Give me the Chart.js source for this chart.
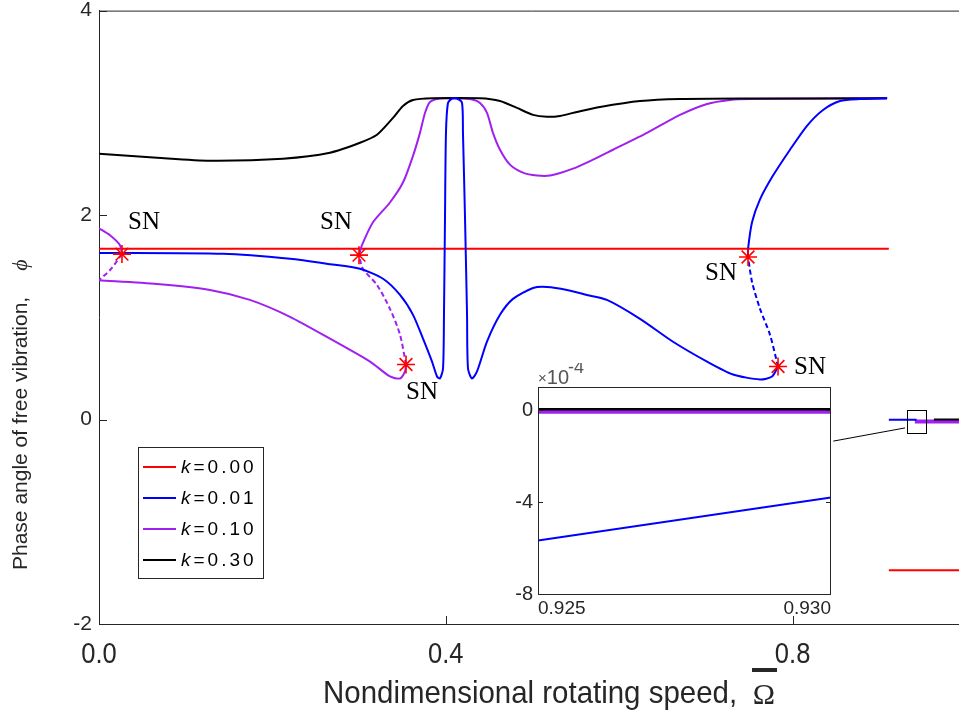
<!DOCTYPE html>
<html>
<head>
<meta charset="utf-8">
<script src="https://cdn.jsdelivr.net/npm/chart.js@4.4.0/dist/chart.umd.min.js"></script>
<style>
  html, body { margin: 0; padding: 0; background: #fff; overflow: hidden; }
  #wrap { position: relative; width: 959px; height: 711px; overflow: hidden; background: #fff; }
  #main { position: absolute; left: 0; top: 0; }
  #inset { position: absolute; left: 490px; top: 363px; }
</style>
</head>
<body>
<div id="wrap">
  <canvas id="main" width="980" height="711"></canvas>
  <canvas id="inset" width="345" height="255"></canvas>
</div>
<script>
// ---------- axes ----------
const xTicks = [0, 0.4, 0.8];
const yTicks = [-2, 0, 2, 4];
const insetXTicks = [0.925, 0.930];
const insetYTicks = [-8, -4, 0];

// ---------- k = 0.00 ----------
const redBranch = [[0, 1.67], [0.911, 1.67]];
const redAfterJump = [[0.911, -1.475], [1.0, -1.475]];

// ---------- k = 0.01 ----------
const blueLower = [[0, 1.630], [0.143, 1.621], [0.2203, 1.572], [0.2664, 1.520], [0.301, 1.475], [0.3276, 1.377],
  [0.3472, 1.219], [0.3622, 1.024], [0.3737, 0.791], [0.3841, 0.567], [0.3899, 0.421], [0.3933, 0.402],
  [0.3968, 0.499], [0.3979, 1.024], [0.3991, 1.997], [0.4002, 2.804], [0.4025, 3.096], [0.4072, 3.140],
  [0.4129, 3.140], [0.4187, 3.096], [0.4198, 2.804], [0.4221, 1.997], [0.4245, 1.024], [0.4256, 0.499],
  [0.4302, 0.402], [0.436, 0.470], [0.4475, 0.762], [0.4625, 1.024], [0.4775, 1.180], [0.5006, 1.287],
  [0.5167, 1.297], [0.5398, 1.268], [0.5629, 1.219], [0.5859, 1.170], [0.624, 0.985], [0.6621, 0.761],
  [0.7013, 0.567], [0.7313, 0.441], [0.7624, 0.392], [0.7763, 0.421], [0.7832, 0.519]];
const blueUnstable = [[0.7832, 0.519], [0.7739, 0.830], [0.7624, 1.083], [0.7532, 1.346], [0.7486, 1.59]];
const blueUpper = [[0.7486, 1.59], [0.7486, 1.667], [0.7532, 1.929], [0.7624, 2.153], [0.7774, 2.386],
  [0.797, 2.639], [0.8166, 2.873], [0.8351, 3.028], [0.8547, 3.116], [0.8777, 3.135], [0.909, 3.142]];
const blueAfterJump = [[0.911, -0.003], [0.943, -0.003]];

// ---------- k = 0.10 ----------
const purpleTopLeft = [[0, 1.871], [0.0127, 1.802], [0.0242, 1.705], [0.0265, 1.618]];
const purpleUnstableLeft = [[0.0265, 1.618], [0.013, 1.465], [0, 1.362]];
const purpleLower = [[0, 1.362], [0.0669, 1.326], [0.128, 1.268], [0.174, 1.170], [0.2203, 1.005],
  [0.2664, 0.791], [0.3126, 0.567], [0.3356, 0.421], [0.3472, 0.402], [0.3529, 0.470], [0.3541, 0.538]];
const purpleUnstableMid = [[0.3541, 0.538], [0.3472, 0.830], [0.3356, 1.083], [0.3206, 1.317],
  [0.3045, 1.472], [0.2999, 1.608]];
const purpleUpper = [[0.2999, 1.608], [0.3033, 1.705], [0.316, 1.929], [0.3356, 2.123], [0.3506, 2.318],
  [0.3622, 2.580], [0.3702, 2.804], [0.376, 2.999], [0.3818, 3.106], [0.3933, 3.140], [0.4129, 3.140],
  [0.4279, 3.135], [0.4394, 3.096], [0.4475, 2.999], [0.4544, 2.804], [0.4625, 2.639], [0.474, 2.493],
  [0.489, 2.415], [0.5052, 2.386], [0.5202, 2.386], [0.5467, 2.454], [0.5698, 2.542], [0.5929, 2.639],
  [0.6321, 2.804], [0.6701, 2.980], [0.7013, 3.087], [0.7278, 3.126], [0.7509, 3.135], [0.909, 3.142]];
const purpleAfterJump = [[0.941, -0.02], [1.0, -0.02]];

// ---------- k = 0.30 ----------
const blackBranch = [[0, 2.600], [0.0669, 2.561], [0.128, 2.532], [0.2122, 2.552], [0.2664, 2.610],
  [0.301, 2.707], [0.3206, 2.785], [0.3391, 2.950], [0.3506, 3.067], [0.3622, 3.125], [0.3852, 3.142],
  [0.4394, 3.142], [0.4625, 3.116], [0.4821, 3.048], [0.5006, 2.980], [0.5167, 2.961], [0.5317, 2.970],
  [0.5513, 3.009], [0.5779, 3.057], [0.624, 3.115], [0.6701, 3.135], [0.7474, 3.140], [0.909, 3.142]];
const blackAfterJump = [[0.963, 0], [1.0, 0]];

// ---------- saddle-node points ----------
const snX = [0.0265, 0.2999, 0.3541, 0.7486, 0.7832];
const snY = [1.618, 1.608, 0.538, 1.59, 0.519];
const snLabelX = [0.0519, 0.2734, 0.3725, 0.7174, 0.8201];
const snLabelY = [1.931, 1.931, 0.266, 1.433, 0.509];

// ---------- zoomed window (x in Omega, y in 1e-4) ----------
const insetX = [0.925, 0.930];
const insetBlack = [0.03, 0.03];
const insetPurple = [-0.05, -0.05];
const insetBlue = [-5.67, -3.8];
const zoomBoxX = [0.9323, 0.9547];
const zoomBoxY = [-0.13, 0.097];
const connector = [[0.847, -0.211], [0.9297, -0.082]];

// ---------- legend ----------
const legendLabels = ['0.00', '0.01', '0.10', '0.30'];

const RED = '#ff0000', BLUE = '#0000ff', PURPLE = '#a020f0', BLACK = '#000000';
const legendColors = [RED, BLUE, PURPLE, BLACK];
const AXIS = '#262626';
const SANS = '"Liberation Sans", Arial, sans-serif';
const SERIF = '"Liberation Serif", "Times New Roman", serif';

Chart.defaults.font.family = SANS;

function curve(pts, color, extra) {
  return Object.assign({
    data: pts.map(([x, y]) => ({ x, y })),
    showLine: true,
    borderColor: color,
    backgroundColor: color,
    borderWidth: 2,
    pointRadius: 0,
    tension: 0.25,
    fill: false
  }, extra || {});
}
const dashed = { borderDash: [5, 3] };

// first dataset is drawn on top
const mainDatasets = [
  {
    data: snX.map((x, i) => ({ x, y: snY[i] })),
    showLine: false,
    pointStyle: 'star',
    pointRadius: 9,
    borderWidth: 1.6,
    borderColor: RED,
    backgroundColor: RED
  },
  curve(blueLower, BLUE),
  curve(blueUnstable, BLUE, dashed),
  curve(blueUpper, BLUE),
  curve(blueAfterJump, BLUE, { tension: 0 }),
  curve(blackBranch, BLACK),
  curve(blackAfterJump, BLACK, { tension: 0 }),
  curve(purpleTopLeft, PURPLE),
  curve(purpleUnstableLeft, PURPLE, dashed),
  curve(purpleLower, PURPLE),
  curve(purpleUnstableMid, PURPLE, dashed),
  curve(purpleUpper, PURPLE),
  curve(purpleAfterJump, PURPLE, { tension: 0, borderWidth: 4 }),
  curve(redBranch, RED, { tension: 0 }),
  curve(redAfterJump, RED, { tension: 0 })
];

const mainDecor = {
  id: 'mainDecor',
  afterDraw(chart) {
    const { ctx, chartArea: a } = chart;
    const xs = chart.scales.x, ys = chart.scales.y;
    ctx.save();

    // top frame line
    ctx.strokeStyle = AXIS;
    ctx.lineWidth = 1;
    ctx.beginPath();
    ctx.moveTo(a.left, a.top + 0.5);
    ctx.lineTo(a.right, a.top + 0.5);
    ctx.stroke();

    // inward tick marks
    ctx.beginPath();
    xTicks.forEach(v => {
      const px = Math.round(xs.getPixelForValue(v)) + 0.5;
      ctx.moveTo(px, a.bottom);
      ctx.lineTo(px, a.bottom - 8);
    });
    yTicks.forEach(v => {
      const py = Math.round(ys.getPixelForValue(v)) + 0.5;
      ctx.moveTo(a.left, py);
      ctx.lineTo(a.left + 8, py);
    });
    ctx.stroke();

    // x tick labels (condensed)
    ctx.fillStyle = AXIS;
    ctx.font = '29px ' + SANS;
    ctx.textAlign = 'center';
    ctx.textBaseline = 'alphabetic';
    xTicks.forEach(v => {
      ctx.save();
      ctx.translate(xs.getPixelForValue(v), a.bottom + 39);
      ctx.scale(0.88, 1);
      ctx.fillText(v.toFixed(1), 0, 0);
      ctx.restore();
    });

    // x axis title
    ctx.save();
    ctx.font = '32px ' + SANS;
    ctx.textAlign = 'left';
    ctx.translate(323, 703);
    ctx.scale(0.92, 1);
    ctx.fillText('Nondimensional rotating speed,', 0, 0);
    ctx.restore();
    ctx.font = '30px ' + SERIF;
    ctx.textAlign = 'center';
    ctx.fillText('\u03A9', 764, 704);
    ctx.fillRect(752, 668, 25, 4);

    // y axis title
    ctx.save();
    ctx.translate(27, 570);
    ctx.rotate(-Math.PI / 2);
    ctx.textAlign = 'left';
    ctx.font = '21px ' + SANS;
    const label = 'Phase angle of free vibration,';
    ctx.fillText(label, 0, 0);
    const w = ctx.measureText(label).width;
    ctx.font = 'italic 22px ' + SERIF;
    ctx.fillText('\u03D5', w + 26, 0);
    ctx.restore();

    // SN labels
    ctx.fillStyle = BLACK;
    ctx.font = '25px ' + SERIF;
    ctx.textAlign = 'center';
    ctx.textBaseline = 'middle';
    snLabelX.forEach((x, i) => {
      ctx.fillText('SN', xs.getPixelForValue(x), ys.getPixelForValue(snLabelY[i]));
    });

    // zoom window and its connector
    ctx.strokeStyle = BLACK;
    ctx.lineWidth = 1;
    const bx0 = xs.getPixelForValue(zoomBoxX[0]), bx1 = xs.getPixelForValue(zoomBoxX[1]);
    const by0 = ys.getPixelForValue(zoomBoxY[1]), by1 = ys.getPixelForValue(zoomBoxY[0]);
    ctx.strokeRect(Math.round(bx0) + 0.5, Math.round(by0) + 0.5, Math.round(bx1 - bx0), Math.round(by1 - by0));
    ctx.beginPath();
    ctx.moveTo(xs.getPixelForValue(connector[0][0]), ys.getPixelForValue(connector[0][1]));
    ctx.lineTo(xs.getPixelForValue(connector[1][0]), ys.getPixelForValue(connector[1][1]));
    ctx.stroke();

    // legend
    const lx = 138, ly = 447, lw = 125, lh = 131;
    ctx.fillStyle = '#fff';
    ctx.fillRect(lx, ly, lw, lh);
    ctx.strokeStyle = AXIS;
    ctx.strokeRect(lx + 0.5, ly + 0.5, lw, lh);
    ctx.textAlign = 'left';
    ctx.textBaseline = 'middle';
    legendLabels.forEach((lab, i) => {
      const ry = ly + 20 + i * 31;
      ctx.strokeStyle = legendColors[i];
      ctx.lineWidth = 2;
      ctx.beginPath();
      ctx.moveTo(lx + 5, ry);
      ctx.lineTo(lx + 38, ry);
      ctx.stroke();
      ctx.fillStyle = BLACK;
      ctx.letterSpacing = '3px';
      ctx.font = 'italic 19px ' + SANS;
      ctx.fillText('k', lx + 43, ry + 1);
      const kw = ctx.measureText('k').width;
      ctx.font = '19px ' + SANS;
      ctx.fillText('=' + lab, lx + 43 + kw, ry + 1);
      ctx.letterSpacing = '0px';
    });
    ctx.restore();
  }
};

new Chart(document.getElementById('main'), {
  type: 'scatter',
  data: { datasets: mainDatasets },
  options: {
    responsive: false,
    animation: false,
    layout: { padding: { left: 0, top: 7, right: 14, bottom: 0 } },
    plugins: { legend: { display: false }, tooltip: { enabled: false } },
    scales: {
      x: {
        type: 'linear', min: 0, max: 1,
        grid: { display: false, drawTicks: false },
        border: { display: true, color: AXIS, width: 1 },
        ticks: { display: false },
        afterBuildTicks: s => { s.ticks = xTicks.map(v => ({ value: v })); },
        afterFit: s => { s.height = 87; s.paddingLeft = 0; s.paddingRight = 0; }
      },
      y: {
        type: 'linear', min: -2, max: 4,
        grid: { display: false, drawTicks: false },
        border: { display: true, color: AXIS, width: 1 },
        ticks: { color: AXIS, font: { size: 21 }, padding: 7, callback: v => String(v) },
        afterBuildTicks: s => { s.ticks = yTicks.map(v => ({ value: v })); },
        afterFit: s => { s.width = 99; s.paddingTop = 0; s.paddingBottom = 0; }
      }
    }
  },
  plugins: [mainDecor]
});

// ---------- zoomed window ----------
const insetDecor = {
  id: 'insetDecor',
  beforeDraw(chart) {
    const { ctx, chartArea: a } = chart;
    ctx.save();
    ctx.fillStyle = '#fff';
    ctx.fillRect(a.left, a.top, a.right - a.left, a.bottom - a.top);
    ctx.restore();
  },
  afterDraw(chart) {
    const { ctx, chartArea: a } = chart;
    const ys = chart.scales.y;
    ctx.save();
    ctx.strokeStyle = AXIS;
    ctx.lineWidth = 1;
    ctx.strokeRect(a.left + 0.5, a.top + 0.5, a.right - a.left - 1, a.bottom - a.top);
    ctx.beginPath();
    insetYTicks.forEach(v => {
      const py = Math.round(ys.getPixelForValue(v)) + 0.5;
      ctx.moveTo(a.left, py); ctx.lineTo(a.left + 5, py);
      ctx.moveTo(a.right, py); ctx.lineTo(a.right - 5, py);
    });
    ctx.stroke();
    // exponent label
    ctx.fillStyle = '#555';
    ctx.textAlign = 'left';
    ctx.textBaseline = 'alphabetic';
    ctx.font = '15px ' + SANS;
    ctx.fillText('\u00D7', a.left, a.top - 4);
    const xw = ctx.measureText('\u00D7').width;
    ctx.font = '20px ' + SANS;
    ctx.fillText('10', a.left + xw, a.top - 3);
    const tw = ctx.measureText('10').width;
    ctx.font = '18px ' + SANS;
    ctx.fillText('-4', a.left + xw + tw - 1, a.top - 14);
    ctx.restore();
  }
};

function insetLine(ys, color, width) {
  return {
    data: insetX.map((x, i) => ({ x, y: ys[i] })),
    showLine: true, borderColor: color, borderWidth: width, pointRadius: 0, fill: false
  };
}

new Chart(document.getElementById('inset'), {
  type: 'scatter',
  data: {
    datasets: [
      insetLine(insetBlack, BLACK, 2.5),
      insetLine(insetPurple, PURPLE, 5),
      insetLine(insetBlue, BLUE, 2)
    ]
  },
  options: {
    responsive: false,
    animation: false,
    layout: { padding: { left: 0, top: 24, right: 4, bottom: 0 } },
    plugins: { legend: { display: false }, tooltip: { enabled: false } },
    scales: {
      x: {
        type: 'linear', min: 0.925, max: 0.930,
        grid: { display: false, drawTicks: false },
        border: { display: false },
        ticks: { color: AXIS, font: { size: 19 }, padding: 3, align: 'inner', maxRotation: 0,
                 callback: v => Number(v).toFixed(3) },
        afterBuildTicks: s => { s.ticks = insetXTicks.map(v => ({ value: v })); },
        afterFit: s => { s.height = 24; s.paddingLeft = 0; s.paddingRight = 0; }
      },
      y: {
        type: 'linear', min: -8, max: 1,
        grid: { display: false, drawTicks: false },
        border: { display: false },
        ticks: { color: AXIS, font: { size: 20 }, padding: 5, callback: v => String(v) },
        afterBuildTicks: s => { s.ticks = insetYTicks.map(v => ({ value: v })); },
        afterFit: s => { s.width = 48; s.paddingTop = 0; s.paddingBottom = 0; }
      }
    }
  },
  plugins: [insetDecor]
});
</script>
</body>
</html>
